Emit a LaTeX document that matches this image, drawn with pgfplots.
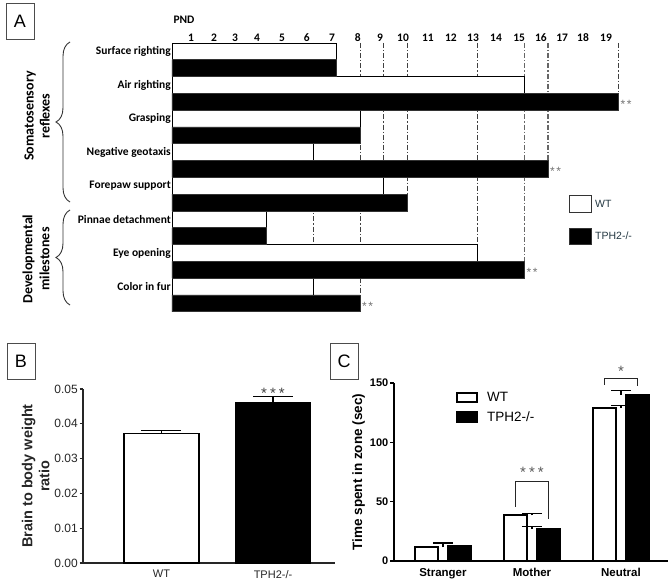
\documentclass[border=0pt]{standalone}
\usepackage{pgfplots}
\pgfplotsset{compat=1.18}
\usepackage{fontspec}
\setmainfont{Liberation Sans}
\newfontfamily\calibri{Carlito}
\usetikzlibrary{decorations.pathreplacing}
\definecolor{legtxt}{RGB}{35,55,65}
\newcommand{\twostar}{*\hspace{1.5pt}*}
\newcommand{\threestar}{*\hspace{3pt}*\hspace{3pt}*}
\begin{document}
\begin{tikzpicture}
\useasboundingbox (0pt,0pt) rectangle (670pt,-586pt);

% ---------------- Panel A ----------------
\begin{axis}[
  at={(172pt,-43pt)}, anchor=north west,
  scale only axis, width=458.25pt, height=268.8pt,
  xmin=0, xmax=19.5, ymin=-0.5, ymax=15.5,
  axis line style={draw=none},
  major tick length=0pt,
  xtick={0.81,1.79,2.68,3.62,4.68,5.74,6.81,7.91,8.85,9.83,10.89,11.87,12.81,13.79,14.77,15.70,16.60,17.49,18.47},
  xticklabels={1,2,3,4,5,6,7,8,9,10,11,12,13,14,15,16,17,18,19},
  xticklabel pos=upper,
  x tick label style={font=\calibri\bfseries\fontsize{11.5}{12}\selectfont, inner sep=1.5pt},
  ytick={1,3,5,7,9,11,13,15},
  yticklabels={Color in fur, Eye opening, Pinnae detachment, Forepaw support, Negative geotaxis, Grasping, Air righting, Surface righting},
  y tick label style={font=\calibri\bfseries\fontsize{11.5}{12}\selectfont, inner sep=1pt},
  clip=false,
]
\addplot[black!75, line width=0.8pt, dash pattern=on 5pt off 2pt on 1.2pt off 2pt] coordinates {(6,15.5) (6,1.5)};
\addplot[black!75, line width=0.8pt, dash pattern=on 5pt off 2pt on 1.2pt off 2pt] coordinates {(8,15.5) (8,0.5)};
\addplot[black!75, line width=0.8pt, dash pattern=on 5pt off 2pt on 1.2pt off 2pt] coordinates {(9,15.5) (9,7.5)};
\addplot[black!75, line width=0.8pt, dash pattern=on 5pt off 2pt on 1.2pt off 2pt] coordinates {(10,15.5) (10,6.5)};
\addplot[black!75, line width=0.8pt, dash pattern=on 5pt off 2pt on 1.2pt off 2pt] coordinates {(13,15.5) (13,3.5)};
\addplot[black!60, line width=1.1pt, dash pattern=on 5pt off 2pt on 1.2pt off 2pt] coordinates {(15,15.5) (15,2.5)};
\addplot[black!60, line width=1.1pt, dash pattern=on 5pt off 2pt on 1.2pt off 2pt] coordinates {(16,15.5) (16,8.5)};
\addplot[black!75, line width=0.8pt, dash pattern=on 5pt off 2pt on 1.2pt off 2pt] coordinates {(19,15.5) (19,12.5)};
% WT bars
\addplot[xbar, bar width=16.8pt, bar shift=0pt, fill=white, draw=black, line width=0.8pt]
  coordinates {(7,15) (15,13) (8,11) (6,9) (9,7) (4,5) (13,3) (6,1)};
% TPH2-/- bars
\addplot[xbar, bar width=16.8pt, bar shift=0pt, fill=black, draw=black!80, line width=0.8pt]
  coordinates {(7,14) (19,12) (8,10) (16,8) (10,6) (4,4) (15,2) (8,0)};
\begin{scope}[every node/.style={anchor=west, text=black!55, font=\fontsize{12}{12}\selectfont, inner sep=2pt, yshift=-2.5pt}]
\node at (axis cs:19,12) {\twostar};
\node at (axis cs:16,8) {\twostar};
\node at (axis cs:15,2) {\twostar};
\node at (axis cs:8,0) {\twostar};
\end{scope}
\end{axis}

% ---------------- Panel B ----------------
\begin{axis}[
  at={(83pt,-563pt)}, anchor=south west,
  scale only axis, width=252pt, height=174pt,
  xmin=-0.704, xmax=1.556, ymin=0, ymax=0.05,
  axis lines*=left,
  axis line style={line width=1.1pt, black!85},
  xtick={0,1}, xticklabels={WT, TPH2-/-},
  x tick style={draw=none},
  x tick label style={font=\fontsize{11}{12}\selectfont, text=black!85},
  ytick={0,0.01,0.02,0.03,0.04,0.05},
  tick align=outside, major tick length=3.5pt,
  y tick style={line width=1.1pt, black!85},
  scaled y ticks=false,
  y tick label style={/pgf/number format/fixed, /pgf/number format/fixed zerofill, /pgf/number format/precision=2, /pgf/number format/assume math mode=true, font=\fontsize{12}{12}\selectfont, text=black!85, inner sep=1.5pt},
  ylabel near ticks,
  ylabel={Brain to body weight\\ratio},
  ylabel style={align=center, font=\bfseries\fontsize{14.5}{17}\selectfont, text=black!85},
  clip=false,
]
\addplot[ybar, bar width=75pt, bar shift=0pt, fill=white, draw=black, line width=1.1pt,
  error bars/.cd, y dir=plus, y explicit,
  error bar style={line width=1.1pt, black},
  error mark options={rotate=90, line width=1.1pt, mark size=20pt, black}]
  coordinates {(0,0.0373) +- (0,0.0008)};
\addplot[ybar, bar width=75pt, bar shift=0pt, fill=black, draw=black, line width=1.1pt,
  error bars/.cd, y dir=plus, y explicit,
  error bar style={line width=1.1pt, black},
  error mark options={rotate=90, line width=1.1pt, mark size=20pt, black}]
  coordinates {(1,0.0461) +- (0,0.0017)};
\node[anchor=south, font=\fontsize{15}{15}\selectfont, text=black!75, inner sep=0pt, yshift=-2pt] at (axis cs:1,0.0478) {\threestar};
\end{axis}

% ---------------- Panel C ----------------
\begin{axis}[
  at={(394pt,-561pt)}, anchor=south west,
  scale only axis, width=274pt, height=178pt,
  xmin=-0.55, xmax=2.528, ymin=0, ymax=150,
  axis lines*=left,
  axis line style={line width=1.6pt, black},
  xtick={0,1,2}, xticklabels={Stranger, Mother, Neutral},
  x tick style={draw=none},
  x tick label style={font=\bfseries\fontsize{11.5}{12}\selectfont},
  ytick={0,50,100,150},
  tick align=outside, major tick length=4pt,
  y tick style={line width=1.6pt, black},
  y tick label style={/pgf/number format/assume math mode=true, font=\bfseries\fontsize{11}{12}\selectfont, inner sep=1.5pt},
  ylabel near ticks,
  ylabel={Time spent in zone (sec)},
  ylabel style={font=\bfseries\fontsize{13.5}{15}\selectfont},
  clip=false,
]
\addplot[ybar, bar width=23pt, bar shift=-16.5pt, fill=white, draw=black, line width=1.6pt,
  error bars/.cd, y dir=plus, y explicit,
  error bar style={line width=1.6pt, black},
  error mark options={rotate=90, line width=1.6pt, mark size=10pt, black}]
  coordinates {(0,11.8) +- (0,2.9) (1,38.6) +- (0,1.4) (2,128.8) +- (0,2.2)};
\addplot[ybar, bar width=23pt, bar shift=16.5pt, fill=black, draw=black, line width=1.6pt,
  error bars/.cd, y dir=plus, y explicit,
  error bar style={line width=1.6pt, black},
  error mark options={rotate=90, line width=1.6pt, mark size=10pt, black}]
  coordinates {(0,12.7) +- (0,2.5) (1,26.8) +- (0,2.2) (2,140.1) +- (0,3.7)};
\draw[line width=1.3pt, black!85] (axis cs:0.815,45.7) -- (axis cs:0.815,66.8) -- (axis cs:1.185,66.8) -- (axis cs:1.185,35.8);
\draw[line width=1.3pt, black!85] (axis cs:1.815,148.6) -- (axis cs:1.815,154) -- (axis cs:2.185,154) -- (axis cs:2.185,147.7);
\node[font=\fontsize{15}{15}\selectfont, text=black!65] at (axis cs:1,75) {\threestar};
\node[font=\fontsize{15}{15}\selectfont, text=black!65] at (axis cs:2,160) {*};
\end{axis}

% ---------------- annotations ----------------
\begin{scope}[x=1pt, y=-1pt]
% panel letters
\node[draw=black!70, line width=0.9pt, minimum width=28pt, minimum height=36pt, inner sep=0pt, font=\fontsize{18}{18}\selectfont] at (20,21) {A};
\node[draw=black!70, line width=0.9pt, minimum width=28pt, minimum height=36pt, inner sep=0pt, font=\fontsize{18}{18}\selectfont] at (21,361) {B};
\node[draw=black!70, line width=0.9pt, minimum width=28pt, minimum height=36pt, inner sep=0pt, font=\fontsize{18}{18}\selectfont] at (344,361) {C};
% PND
\node[font=\calibri\bfseries\fontsize{11.5}{12}\selectfont] at (184,20) {PND};
% braces
\draw[black!80, line width=0.9pt, decorate, decoration={brace, amplitude=14pt, aspect=0.5}] (70,202) -- (70,42);
\draw[black!80, line width=0.9pt, decorate, decoration={brace, amplitude=14pt, aspect=0.5}] (70,305) -- (70,210);
\node[rotate=90, align=center, font=\calibri\bfseries\fontsize{14}{16}\selectfont] at (37,116) {Somatosensory\\reflexes};
\node[rotate=90, align=center, font=\calibri\bfseries\fontsize{14}{17}\selectfont] at (36,259) {Developmental\\milestones};
% legend A
\draw[black!80, line width=0.9pt, fill=white] (569,195) rectangle (591,212);
\draw[black!80, line width=0.9pt, fill=black] (569,228) rectangle (591,244);
\node[anchor=west, text=legtxt, font=\fontsize{10.5}{11}\selectfont, inner sep=0pt] at (595,204) {WT};
\node[anchor=west, text=legtxt, font=\fontsize{10.5}{11}\selectfont, inner sep=0pt] at (595,236) {TPH2-/-};
% legend C
\draw[black, line width=1.5pt, fill=white] (457,393) rectangle (477,402);
\draw[black, line width=1.5pt, fill=black] (457,412) rectangle (477,422);
\node[anchor=west, font=\fontsize{13.5}{14}\selectfont, inner sep=0pt] at (487,397) {WT};
\node[anchor=west, font=\fontsize{13.5}{14}\selectfont, inner sep=0pt] at (487,417) {TPH2-/-};
\end{scope}
\end{tikzpicture}
\end{document}
